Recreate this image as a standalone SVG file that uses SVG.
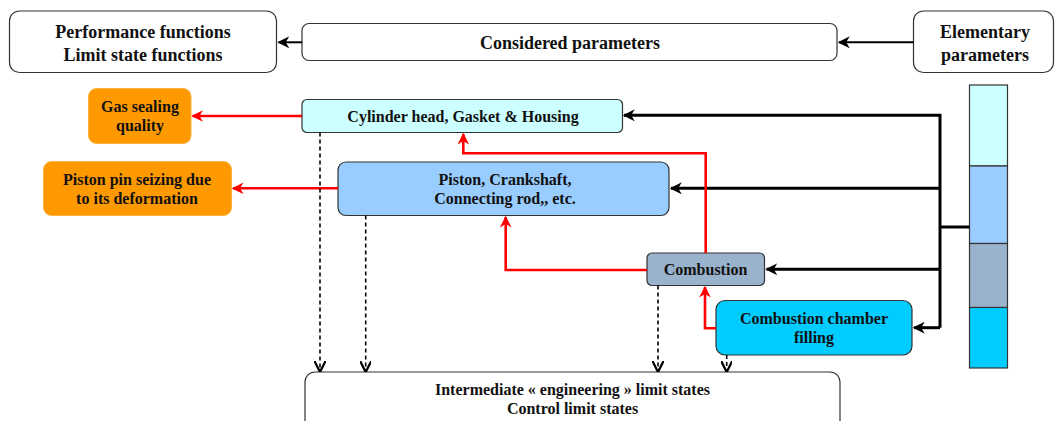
<svg xmlns="http://www.w3.org/2000/svg" width="1056" height="421" viewBox="0 0 1056 421">
<style>
text{font-family:'Liberation Serif','Times New Roman','DejaVu Serif',Times,serif;font-weight:700;fill:#111;text-anchor:middle}
.t18{font-size:18px}
.t16{font-size:16px}
.box{stroke:#333;stroke-width:1.2}
.blk{fill:none;stroke:#000;stroke-width:3}
.thin{fill:none;stroke:#000;stroke-width:2}
.red{fill:none;stroke:#ff0000;stroke-width:2.6}
.dash{fill:none;stroke:#000;stroke-width:1.6;stroke-dasharray:4,3}
</style>
<defs>
<marker id="ab" viewBox="0 0 10 10" refX="9" refY="5" markerWidth="4" markerHeight="4" orient="auto" markerUnits="strokeWidth">
<path d="M0,0 L10,5 L0,10 L3,5 z" fill="#000"/>
</marker>
<marker id="abt" viewBox="0 0 10 10" refX="9" refY="5" markerWidth="6" markerHeight="6" orient="auto" markerUnits="strokeWidth">
<path d="M0,0 L10,5 L0,10 L3,5 z" fill="#000"/>
</marker>
<marker id="ar" viewBox="0 0 10 10" refX="9" refY="5" markerWidth="4.5" markerHeight="4.5" orient="auto" markerUnits="strokeWidth">
<path d="M0,0 L10,5 L0,10 L3,5 z" fill="#ff0000"/>
</marker>
<marker id="ad" viewBox="0 0 10 10" refX="9" refY="5" markerWidth="7" markerHeight="7" orient="auto" markerUnits="strokeWidth">
<path d="M0,0 L10,5 L0,10" fill="none" stroke="#000" stroke-width="2"/>
</marker>
</defs>

<g id="performance">
<rect class="box" x="9.5" y="11" width="267" height="61.5" rx="10" fill="#fff"/>
<text class="t18" x="143" y="38">Performance functions</text>
<text class="t18" x="143" y="61">Limit state functions</text>
</g>
<g id="considered">
<rect class="box" x="302" y="23.5" width="535" height="37" rx="7" fill="#fff"/>
<text class="t18" x="570" y="49">Considered parameters</text>
</g>
<g id="elementary">
<rect class="box" x="913.5" y="11" width="140" height="61.5" rx="10" fill="#fff"/>
<text class="t18" x="985" y="38">Elementary</text>
<text class="t18" x="985" y="61">parameters</text>
</g>

<g id="gas-sealing">
<rect x="88.5" y="88.5" width="102.5" height="55" rx="8" fill="#ff9900" stroke="#ffb340" stroke-width="1"/>
<text class="t16" x="140" y="112">Gas sealing</text>
<text class="t16" x="140" y="131">quality</text>
</g>
<g id="piston-pin">
<rect x="43.5" y="161.5" width="188" height="54" rx="8" fill="#ff9900" stroke="#ffb340" stroke-width="1"/>
<text class="t16" x="137" y="185">Piston pin seizing due</text>
<text class="t16" x="137" y="204">to its deformation</text>
</g>

<g id="cylinder-head">
<rect class="box" x="302" y="99.5" width="320.5" height="33" rx="5" fill="#ccffff"/>
<text class="t16" x="463" y="121.5">Cylinder head, Gasket &amp; Housing</text>
</g>
<g id="piston">
<rect class="box" x="338" y="162" width="331" height="53.5" rx="8" fill="#99ccff"/>
<text class="t16" x="505" y="185">Piston, Crankshaft,</text>
<text class="t16" x="505" y="203.5">Connecting rod,, etc.</text>
</g>
<g id="combustion">
<rect class="box" x="647" y="253" width="117.5" height="32.5" rx="5" fill="#99b3cc"/>
<text class="t16" x="705.5" y="275">Combustion</text>
</g>
<g id="chamber">
<rect class="box" x="716" y="300.5" width="196" height="54.5" rx="9" fill="#00ccff"/>
<text class="t16" x="814" y="324">Combustion chamber</text>
<text class="t16" x="814" y="343">filling</text>
</g>
<g id="limit-states">
<rect class="box" x="305" y="372" width="535" height="80" rx="10" fill="#fff"/>
<text class="t16" x="572.5" y="395">Intermediate « engineering » limit states</text>
<text class="t16" x="572.5" y="414">Control limit states</text>
</g>

<g id="param-bar">
<rect class="box" x="969.5" y="85" width="38" height="81" fill="#ccffff"/>
<rect class="box" x="969.5" y="166" width="38" height="77.5" fill="#99ccff"/>
<rect class="box" x="969.5" y="243.5" width="38" height="64" fill="#99b3cc"/>
<rect class="box" x="969.5" y="307.5" width="38" height="60.5" fill="#00ccff"/>
</g>

<g id="connectors">
<line class="thin" x1="302" y1="42.3" x2="278.5" y2="42.3" marker-end="url(#abt)"/>
<line class="thin" x1="913.5" y1="42.3" x2="839" y2="42.3" marker-end="url(#abt)"/>

<path class="blk" d="M969.5,227 H940"/>
<path class="blk" d="M940,327.7 V115.3 H624" marker-end="url(#ab)"/>
<path class="blk" d="M940,188.3 H671" marker-end="url(#ab)"/>
<path class="blk" d="M940,269.3 H766.5" marker-end="url(#ab)"/>
<path class="blk" d="M940,327.7 H914" marker-end="url(#ab)"/>

<path class="red" d="M302,116 H192.5" marker-end="url(#ar)"/>
<path class="red" d="M338,188.3 H233" marker-end="url(#ar)"/>
<path class="red" d="M705.7,253 V153.3 H463.3 V134" marker-end="url(#ar)"/>
<path class="red" d="M647,270 H505.7 V217" marker-end="url(#ar)"/>
<path class="red" d="M716,328.3 H705 V287" marker-end="url(#ar)"/>

<path class="dash" d="M320,132.5 V371" marker-end="url(#ad)"/>
<path class="dash" d="M365.7,215.5 V371" marker-end="url(#ad)"/>
<path class="dash" d="M658,285.5 V371" marker-end="url(#ad)"/>
<path class="dash" d="M726.7,355 V371" marker-end="url(#ad)"/>
</g>
</svg>
